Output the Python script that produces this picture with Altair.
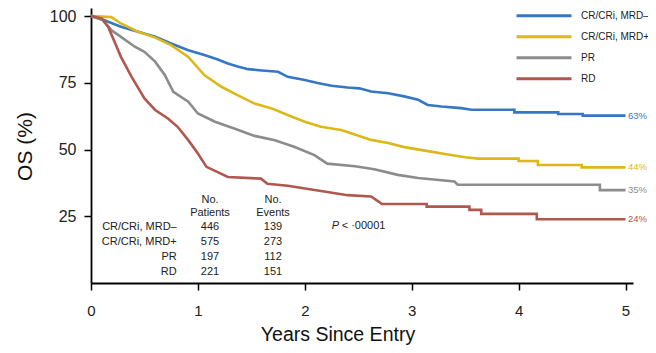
import altair as alt
import pandas as pd

GROUPS = ["CR/CRi, MRD–", "CR/CRi, MRD+", "PR", "RD"]
COLORS = ["#3677c4", "#dcb818", "#8c8c8c", "#b0574e"]
END_LABELS = ["63%", "44%", "35%", "24%"]

X_TICKS = [0, 1, 2, 3, 4, 5]
Y_TICKS = [25, 50, 75, 100]

# Kaplan-Meier curves (years, OS %)
T_MRD_NEG = [0, 0.12, 0.28, 0.44, 0.60, 0.75, 0.91, 1.06, 1.18, 1.28, 1.38, 1.47, 1.60, 1.75, 1.84,
             2.00, 2.12, 2.25, 2.40, 2.51, 2.62, 2.78, 2.93, 3.06, 3.15, 3.28, 3.46, 3.56,
             3.96, 3.96, 4.37, 4.37, 4.60, 4.60, 5.0]
S_MRD_NEG = [100, 98.5, 96.0, 94.1, 92.2, 89.7, 87.2, 85.4, 83.8, 82.2, 81.0, 80.1, 79.6, 79.1, 77.2,
             76.0, 74.9, 73.9, 73.2, 72.9, 71.7, 71.1, 69.9, 68.6, 66.7, 66.1, 65.5, 64.9,
             64.9, 63.9, 63.9, 63.3, 63.3, 62.7, 62.7]

T_MRD_POS = [0, 0.19, 0.28, 0.44, 0.60, 0.75, 0.91, 1.06, 1.22, 1.37, 1.53, 1.69, 1.84, 2.00, 2.15,
             2.34, 2.51, 2.62, 2.78, 2.93, 3.18, 3.31, 3.50, 3.62,
             4.00, 4.00, 4.18, 4.18, 4.59, 4.59, 5.0]
S_MRD_POS = [100, 99.6, 97.2, 94.1, 91.9, 89.1, 84.7, 77.9, 73.5, 70.4, 67.2, 65.4, 62.9, 60.4, 58.5,
             57.3, 55.1, 53.6, 52.4, 50.9, 49.2, 48.3, 47.1, 46.6,
             46.6, 45.7, 45.7, 44.2, 44.2, 43.3, 43.3]

T_PR = [0, 0.11, 0.19, 0.28, 0.41, 0.50, 0.60, 0.69, 0.77, 0.91, 1.00, 1.16, 1.34, 1.53, 1.72,
        1.90, 2.09, 2.21, 2.47, 2.65, 2.87, 3.06, 3.40, 3.43, 4.76, 4.76, 5.0]
S_PR = [100, 98.5, 94.7, 92.2, 88.5, 86.6, 82.9, 77.9, 71.6, 67.9, 63.5, 60.4, 57.9, 55.1, 53.5,
        51.0, 47.9, 44.7, 43.7, 42.6, 40.5, 39.3, 38.0, 36.8, 36.8, 34.8, 34.8]

T_RD = [0, 0.10, 0.16, 0.22, 0.28, 0.38, 0.50, 0.60, 0.72, 0.81, 0.91, 1.00, 1.08, 1.28, 1.59,
        1.65, 1.84, 2.21, 2.40, 2.62, 2.69, 2.72, 3.14, 3.14, 3.54, 3.54, 3.65, 3.65, 4.17, 4.17, 5.0]
S_RD = [100, 99.1, 96.0, 90.4, 84.7, 77.2, 69.1, 64.8, 61.6, 58.5, 53.5, 48.5, 43.5, 39.7, 39.1,
        37.2, 36.4, 34.1, 32.9, 32.4, 30.5, 29.6, 29.6, 28.6, 28.6, 27.4, 27.4, 25.9, 25.9, 23.9, 23.9]

ROW_LABELS = ["CR/CRi, MRD–", "CR/CRi, MRD+", "PR", "RD"]
N_PATIENTS = [446, 575, 197, 221]
N_EVENTS = [139, 273, 112, 151]

FONT = "Liberation Sans"

rows = []
for g, ts, ss in zip(GROUPS, [T_MRD_NEG, T_MRD_POS, T_PR, T_RD], [S_MRD_NEG, S_MRD_POS, S_PR, S_RD]):
    for i, (t, s) in enumerate(zip(ts, ss)):
        rows.append({"group": g, "t": t, "s": s, "order": i})
curves = pd.DataFrame(rows)

ends = pd.DataFrame({
    "group": GROUPS,
    "t": [ts[-1] for ts in [T_MRD_NEG, T_MRD_POS, T_PR, T_RD]],
    "s": [ss[-1] for ss in [S_MRD_NEG, S_MRD_POS, S_PR, S_RD]],
    "label": END_LABELS,
    "color": COLORS,
})

table = pd.DataFrame({"label": ROW_LABELS, "patients": N_PATIENTS, "events": N_EVENTS,
                      "i": list(range(len(ROW_LABELS)))})
one = pd.DataFrame({"k": [0]})

x_scale = alt.Scale(domain=[0, 5.07], nice=False, zero=False)
y_scale = alt.Scale(domain=[0, 103], nice=False, zero=False)
color_scale = alt.Scale(domain=GROUPS, range=COLORS)

lines = alt.Chart(curves).mark_line(strokeWidth=2.6, interpolate="linear").encode(
    x=alt.X("t:Q", scale=x_scale, axis=alt.Axis(
        values=X_TICKS, format="d", tickSize=7, tickWidth=1.5, domainWidth=1.8,
        labelFontSize=15, labelPadding=13, labelFont=FONT, labelFlush=False,
        title="Years Since Entry", titleFont=FONT, titleFontSize=19.5,
        titleFontWeight="normal", titleX=246.5, titleY=57, titleBaseline="alphabetic",
        titleAlign="center", grid=False)),
    y=alt.Y("s:Q", scale=y_scale, axis=alt.Axis(
        values=Y_TICKS, tickSize=7, tickWidth=1.5, domainWidth=1.8,
        labelFontSize=16, labelPadding=8, labelFont=FONT,
        title="OS (%)", titleFont=FONT, titleFontSize=21, titleFontWeight="normal",
        titleAngle=270, titleX=-66, titleY=138, titleBaseline="middle", titleAlign="center",
        grid=False)),
    color=alt.Color("group:N", scale=color_scale, sort=GROUPS, legend=alt.Legend(
        title=None, orient="none", legendX=424, legendY=-1.5, symbolType="stroke",
        symbolSize=3025, symbolStrokeWidth=3, clipHeight=18.5, rowPadding=2,
        labelFontSize=10, labelFont=FONT, labelOffset=8, padding=0, labelColor="#222",
        labelLimit=200)),
    order="order:Q",
)

end_text = alt.Chart(ends).mark_text(align="left", baseline="middle", dx=2.5, fontSize=9.5, font=FONT).encode(
    x=alt.X("t:Q", scale=x_scale),
    y=alt.Y("s:Q", scale=y_scale),
    text="label:N",
    color=alt.Color("color:N", scale=None),
)

base_tab = alt.Chart(table).transform_calculate(ypx="219.3 + 14.9 * datum.i")
tab_labels = base_tab.mark_text(align="right", baseline="middle", fontSize=11, font=FONT, color="#222").encode(
    x=alt.value(85.7), y=alt.Y("ypx:Q", scale=None), text="label:N")
tab_pat = base_tab.mark_text(align="center", baseline="middle", fontSize=11, font=FONT, color="#222").encode(
    x=alt.value(119), y=alt.Y("ypx:Q", scale=None), text="patients:N")
tab_ev = base_tab.mark_text(align="center", baseline="middle", fontSize=11, font=FONT, color="#222").encode(
    x=alt.value(182), y=alt.Y("ypx:Q", scale=None), text="events:N")

hdr_p = alt.Chart(one).mark_text(text=["No.", "Patients"], lineHeight=13, align="center", baseline="middle",
                                  fontSize=11, font=FONT, color="#222").encode(
    x=alt.value(119), y=alt.value(192))
hdr_e = alt.Chart(one).mark_text(text=["No.", "Events"], lineHeight=13, align="center", baseline="middle",
                                  fontSize=11, font=FONT, color="#222").encode(
    x=alt.value(182), y=alt.value(192))
p_it = alt.Chart(one).mark_text(text="P", fontStyle="italic", align="left", baseline="middle",
                                 fontSize=11, font=FONT, color="#222").encode(
    x=alt.value(240.7), y=alt.value(218))
p_val = alt.Chart(one).mark_text(text="< ·00001", align="left", baseline="middle",
                                  fontSize=11, font=FONT, color="#222").encode(
    x=alt.value(250.7), y=alt.value(218))

chart = alt.layer(lines, end_text, tab_labels, tab_pat, tab_ev, hdr_p, hdr_e, p_it, p_val).properties(
    width=542, height=275,
    autosize=alt.AutoSizeParams(type="none"),
    padding={"left": 83, "top": 0, "right": 15, "bottom": 62},
).configure_view(stroke=None).configure_axis(
    domainColor="black", tickColor="black", labelColor="#222", titleColor="#111", labelOverlap=False
)

chart.save("out.html", embed_options={"renderer": "svg", "actions": False})
